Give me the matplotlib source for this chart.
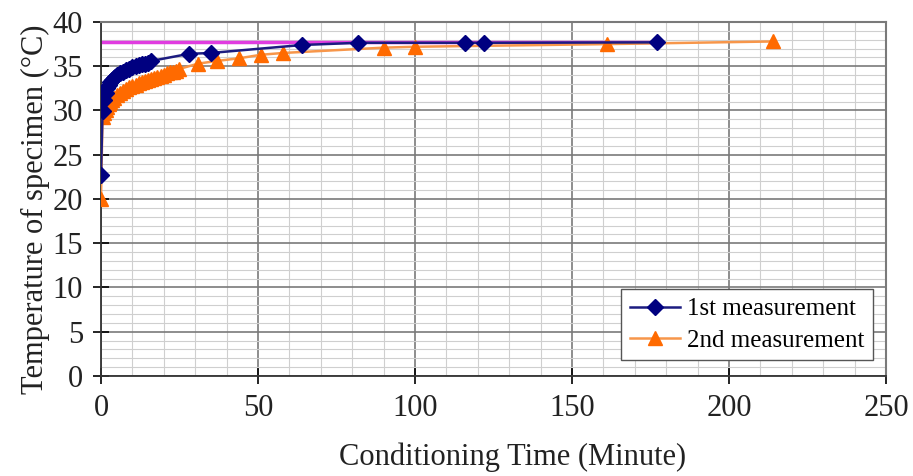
import numpy as np
import matplotlib
matplotlib.use('Agg')
import matplotlib.pyplot as plt
from matplotlib.ticker import MultipleLocator

# 1st measurement (minutes, deg C)
t1 = [0, 0.5, 1, 1.5, 2, 2.5, 3, 3.5, 4, 4.5, 5, 6, 7, 8, 9, 10, 11, 12, 13, 14,
      15, 16, 28, 35, 64, 82, 116, 122, 177]
T1 = [22.7, 29.9, 31.2, 32.0, 32.5, 32.9, 33.2, 33.5, 33.7, 33.8, 34.0, 34.2, 34.4,
      34.6, 34.7, 34.9, 35.0, 35.1, 35.2, 35.3, 35.4, 35.6, 36.4, 36.5, 37.4, 37.65,
      37.65, 37.65, 37.7]

# 2nd measurement
t2 = [0, 0.5, 1, 1.5, 2, 2.5, 3, 3.5, 4, 5, 6, 7, 8, 9, 10, 11, 12, 13, 14, 15, 16,
      17, 18, 19, 20, 21, 22, 23, 24, 25, 31, 37, 44, 51, 58, 90, 100, 161, 214]
T2 = [20.0, 29.3, 29.7, 30.1, 30.4, 30.7, 31.0, 31.2, 31.4, 31.7, 32.0, 32.2, 32.4,
      32.6, 32.8, 32.9, 33.1, 33.2, 33.3, 33.5, 33.6, 33.7, 33.8, 33.9, 34.0, 34.2,
      34.3, 34.4, 34.5, 34.7, 35.3, 35.6, 35.9, 36.3, 36.5, 37.1, 37.2, 37.5, 37.8]

# target temperature line
target_t = [0, 177]
target_T = [37.7, 37.7]

plt.rcParams['font.family'] = ['Liberation Serif', 'DejaVu Serif']

fig = plt.figure(figsize=(9.13, 4.76), dpi=100)
ax = fig.add_axes([0.1106, 0.2101, 0.8598, 0.7437])

ax.plot(target_t, target_T, color='#E03CE0', lw=2.5, zorder=2)
ax.plot(t2, T2, color='#F7964A', lw=1.8, marker='^', ms=10,
        mfc='#FF6A00', mec='#FF6A00', label='2nd measurement', zorder=3)
ax.plot(t1, T1, color='#1C1C80', lw=1.8, marker='D', ms=8,
        mfc='#000080', mec='#000080', label='1st measurement', zorder=4)

ax.set_xlim(0, 250)
ax.set_ylim(0, 40)
ax.xaxis.set_major_locator(MultipleLocator(50))
ax.xaxis.set_minor_locator(MultipleLocator(10))
ax.yaxis.set_major_locator(MultipleLocator(5))
ax.yaxis.set_minor_locator(MultipleLocator(1))
ax.grid(which='major', color='#7a7a7a', lw=1.2)
ax.grid(which='minor', color='#cfcfcf', lw=0.8)
ax.set_axisbelow(True)

ax.tick_params(which='major', direction='inout', length=12, width=1.2,
               labelsize=22, pad=7, labelcolor='#222222')
ax.tick_params(which='minor', length=0)
for s in ['top', 'right']:
    ax.spines[s].set_color('#7a7a7a')
    ax.spines[s].set_linewidth(1.5)
for s in ['left', 'bottom']:
    ax.spines[s].set_color('#333333')
    ax.spines[s].set_linewidth(1.3)

ax.set_xlabel('Conditioning Time (Minute)', fontsize=22, labelpad=14, color='#222222')
ax.set_ylabel('Temperature of specimen (°C)', fontsize=22, labelpad=2, color='#222222')
# titles sit centred on the chart area rather than the plot area
ax.xaxis.label.set_x(0.524)
ax.yaxis.label.set_y(0.472)

h, l = ax.get_legend_handles_labels()
leg = ax.legend(h[::-1], l[::-1], loc='lower right', bbox_to_anchor=(0.99, 0.03),
                fontsize=18, frameon=True, fancybox=False, edgecolor='#555555',
                framealpha=1, borderpad=0.35, handlelength=2.0, handletextpad=0.3,
                labelspacing=0.35, borderaxespad=0.2)
leg.get_frame().set_linewidth(1.0)

fig.savefig('out.png', dpi=100)
